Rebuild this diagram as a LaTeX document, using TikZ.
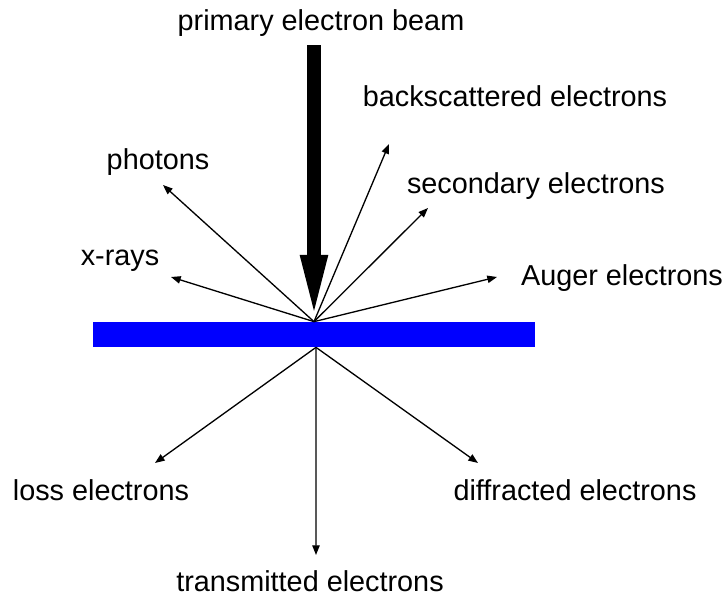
\documentclass[tikz,border=0pt]{standalone}
\usepackage{fontspec}
\setmainfont{Liberation Sans}
\usetikzlibrary{arrows.meta, positioning}

\begin{document}
\begin{tikzpicture}[
    x=0.02cm, y=-0.02cm,
    sample/.style={rectangle, fill=blue, inner sep=0pt, minimum width=8.84cm, minimum height=0.5cm},
    beam/.style={line width=7.4pt, -{Triangle[length=38pt, width=13.6pt]}},
    arrow/.style={line width=0.75pt, -{Triangle[length=5.5pt, width=4.2pt]}},
    every node/.style={font=\fontsize{16.4}{19}\selectfont, inner sep=1pt}
]
\useasboundingbox (0,0) rectangle (725,595);

% Sample
\node[sample] (sample) at (314,334.5) {};
\coordinate (hit) at (sample.north);
\coordinate (exit) at ([xshift=0.04cm]sample.south);

% Labels
\node (primary) at (321,23) {primary electron beam};
\node (back) at (515,96) {backscattered electrons};
\node (photons) at (158,162) {photons};
\node (second) at (536,186) {secondary electrons};
\node (xrays) at (120,261) {x-rays};
\node (auger) at (622,278) {Auger electrons};
\node (loss) at (101,490) {loss electrons};
\node (diffr) at (575,490) {diffracted electrons};
\node (trans) at (310,581) {transmitted electrons};

% Arrow ends
\coordinate (src) at (314,45);
\coordinate (photons end) at (163,185);
\coordinate (xrays end) at (171,277);
\coordinate (back end) at (389,144);
\coordinate (second end) at (428,208);
\coordinate (auger end) at (497,277);
\coordinate (loss end) at (155,463);
\coordinate (trans end) at (316,555);
\coordinate (diffr end) at (478,463);

% Incident beam
\draw[beam] (src) -- (hit);

% Emitted above the sample
\draw[arrow] (hit) -- (photons end);
\draw[arrow] (hit) -- (xrays end);
\draw[arrow] (hit) -- (back end);
\draw[arrow] (hit) -- (second end);
\draw[arrow] (hit) -- (auger end);

% Emitted below the sample
\draw[arrow] (exit) -- (loss end);
\draw[arrow] (exit) -- (trans end);
\draw[arrow] (exit) -- (diffr end);

\end{tikzpicture}
\end{document}
